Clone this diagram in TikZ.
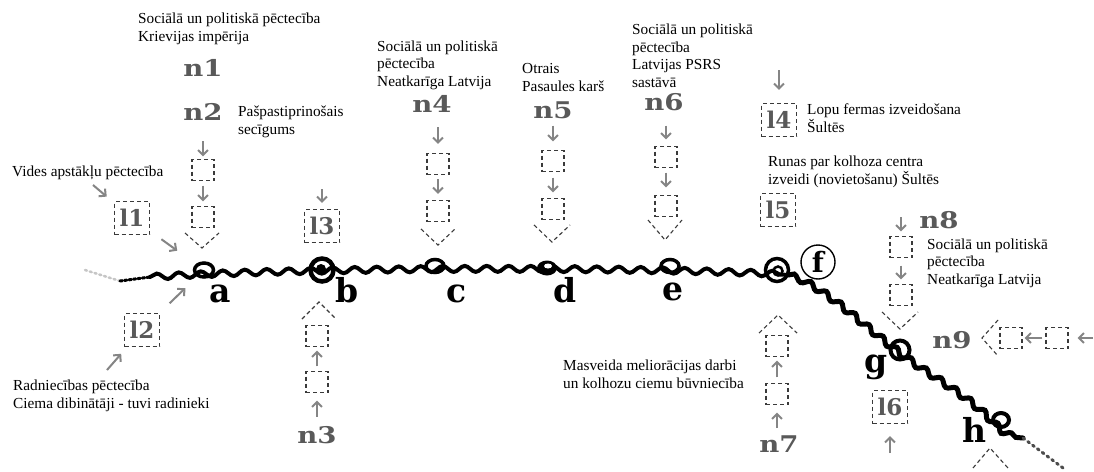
\documentclass[tikz,border=0pt]{standalone}
\usepackage{fontspec}
\setmainfont{Liberation Serif}
\newfontfamily\dvs{DejaVu Serif}
\newfontfamily\dvsw{DejaVu Serif}[FakeStretch=1.2]
\usetikzlibrary{arrows.meta,decorations.pathmorphing,calc}
\definecolor{lblgray}{HTML}{595959}
\definecolor{arrgray}{HTML}{858585}
\definecolor{boxgray}{HTML}{3A3A3A}
\begin{document}
\begin{tikzpicture}[x=1pt,y=-1pt,
  txt/.style={anchor=base west, align=left, inner sep=0, font=\fontsize{15.3}{17.5}\selectfont, text=black},
  big/.style={anchor=base, inner sep=0, font=\dvsw\bfseries\fontsize{23}{23}\selectfont, text=lblgray},
  lbox/.style={draw=boxgray, dash pattern=on 4pt off 3pt, line width=1.1pt, minimum width=35pt, minimum height=33pt, inner sep=0, font=\dvs\bfseries\fontsize{23}{23}\selectfont, text=lblgray},
  sbox/.style={draw=boxgray, dash pattern=on 4pt off 3pt, line width=1.1pt, minimum width=22pt, minimum height=21pt, inner sep=0},
  arr/.style={draw=arrgray, line width=2pt, -{Straight Barb[length=5pt,width=10pt]}},
  chev/.style={draw=boxgray, dash pattern=on 4pt off 3pt, line width=1.1pt},
  thr/.style={anchor=base, inner sep=0, font=\dvs\bfseries\fontsize{33}{33}\selectfont},
]
\fill[white] (0,0) rectangle (1094,471);
\useasboundingbox (0,0) rectangle (1094,471);

% ---------- thread ----------
\coordinate (A) at (204,270);
\coordinate (B) at (322,270);
\coordinate (C) at (435,266);
\coordinate (D) at (547,268);
\coordinate (E) at (670,266);
\coordinate (FL) at (777,270);
\coordinate (G) at (900,350);
\coordinate (H) at (1001,420);
\begin{scope}[line cap=round]
\draw[gray!45, line width=2.5pt, dash pattern=on 2pt off 3pt] (85,270) -- (120,281);
\draw[black, line width=3pt, dash pattern=on 2.5pt off 2pt] (120,281) -- (150,277);
\draw[line width=4pt, decorate, decoration={snake, amplitude=3pt, segment length=22pt}]
  (150,277) .. controls (300,268) and (600,266) .. (790,275);
\draw[line width=5pt, decorate, decoration={snake, amplitude=2.8pt, segment length=18pt}]
  (788,275) .. controls (820,285) and (860,325) .. (900,355)
  .. controls (935,380) and (965,395) .. (990,422)
  .. controls (1000,433) and (1010,437) .. (1023,438);
\draw[black!70, line width=3pt, dash pattern=on 2pt off 4pt] (1023,438) -- (1063,468);
\end{scope}
\draw[line width=3.5pt] (A) ellipse [x radius=9.5, y radius=7];
\draw[line width=4.5pt] (B) circle [radius=11.5];
\fill ($(B)+(-1,-1)$) circle [radius=5];
\draw[line width=3.5pt] (C) ellipse [x radius=9, y radius=6.5];
\fill (D) ellipse [x radius=10, y radius=7.5];
\fill[white] ($(D)+(1,-2)$) ellipse [x radius=4, y radius=2.5];
\draw[line width=3.5pt] (E) ellipse [x radius=9, y radius=6.5];
\draw[line width=3.5pt] (FL) circle [radius=11.5];
\draw[line width=2.5pt] ($(FL)+(1,1)$) circle [radius=4.5];
\draw[line width=4pt] (G) circle [radius=9.5];
\draw[line width=4pt] (H) ellipse [x radius=8, y radius=7];

\node[thr] (la) at (220,302) {a};
\node[thr] (lb) at (347,302) {b};
\node[thr] (lc) at (457,302) {c};
\node[thr] (ld) at (565,302) {d};
\node[thr] (le) at (673,300) {e};
\node[circle, draw, line width=1.4pt, minimum size=34pt, inner sep=0, font=\dvs\bfseries\fontsize{28}{28}\selectfont] (lf) at (818,262) {f};
\node[thr] (lg) at (876,372) {g};
\node[thr] (lh) at (974,442) {h};

% ---------- n1 / n2 column ----------
\node[txt] (tn1) at (138,41) {Sociālā un politiskā pēctecība\\Krievijas impērija};
\node[big] (n1) at (203,76) {n1};
\node[big] (n2) at (203,120) {n2};
\node[txt] (tn2) at (238,134) {Pašpastiprinošais\\secīgums};
\node[sbox] (n2b1) at (203,170) {};
\node[sbox] (n2b2) at (203,217) {};
\coordinate (n2t) at (202,248);
\draw[arr, shorten <=21pt, shorten >=2.5pt] (n2b1 |- n2.south) -- (n2b1.north);
\draw[arr, shorten <=4.5pt, shorten >=4.5pt] (n2b1.south) -- (n2b2.north);
\draw[chev] ($(n2t)+(-17,-15)$) -- (n2t) -- ($(n2t)+(17,-15)$);

% ---------- l1 / l2 ----------
\node[txt] (tvid) at (12,176) {Vides apstākļu pēctecība};
\node[lbox] (l1) at (132,218) {l1};
\coordinate (l1in) at (93,185);
\draw[arr, shorten >=9.5pt] (l1in) -- (l1);
\draw[arr, shorten <=14pt, shorten >=33pt] (l1) -- (A);
\node[lbox] (l2) at (142,330) {l2};
\draw[arr, shorten <=14pt, shorten >=26pt] (l2) -- (A);
\coordinate (l2in) at (107,370);
\draw[arr, shorten >=9pt] (l2in) -- (l2);
\node[txt] (trad) at (13,408) {Radniecības pēctecība\\Ciema dibinātāji - tuvi radinieki};

% ---------- l3 ----------
\node[lbox] (l3) at (322,226) {l3};
\coordinate (l3in) at (322,189);
\draw[arr, shorten >=6pt] (l3in) -- (l3);

% ---------- n3 column ----------
\node[big] (n3) at (317,443) {n3};
\node[sbox] (n3b2) at (317,382) {};
\node[sbox] (n3b1) at (317,336) {};
\coordinate (n3t) at (319,302);
\draw[arr, shorten <=9pt, shorten >=7.5pt] (n3b2 |- n3.north) -- (n3b2.south);
\draw[arr, shorten <=4.5pt, shorten >=3.5pt] (n3b2.north) -- (n3b1.south);
\draw[chev] ($(n3t)+(-17,17)$) -- (n3t) -- ($(n3t)+(17,17)$);

% ---------- n4 column ----------
\node[txt] (tn4) at (377,86) {Sociālā un politiskā\\pēctecība\\Neatkarīga Latvija};
\node[big] (n4) at (432,112) {n4};
\node[sbox] (n4b1) at (438,164) {};
\node[sbox] (n4b2) at (438,211) {};
\coordinate (n4t) at (438,245);
\draw[arr, shorten <=15pt, shorten >=9pt] (n4b1 |- n4.south) -- (n4b1.north);
\draw[arr, shorten <=4pt, shorten >=6pt] (n4b1.south) -- (n4b2.north);
\draw[chev] ($(n4t)+(-17,-16)$) -- (n4t) -- ($(n4t)+(17,-16)$);

% ---------- n5 column ----------
\node[txt] (tn5) at (522,91) {Otrais\\Pasaules karš};
\node[big] (n5) at (553,118) {n5};
\node[sbox] (n5b1) at (553,161) {};
\node[sbox] (n5b2) at (553,209) {};
\coordinate (n5t) at (552,242);
\draw[arr, shorten <=7pt, shorten >=8.5pt] (n5b1 |- n5.south) -- (n5b1.north);
\draw[arr, shorten <=5.5pt, shorten >=5.5pt] (n5b1.south) -- (n5b2.north);
\draw[chev] ($(n5t)+(-18,-17)$) -- (n5t) -- ($(n5t)+(18,-17)$);

% ---------- n6 column ----------
\node[txt] (tn6) at (632,87) {Sociālā un politiskā\\pēctecība\\Latvijas PSRS\\sastāvā};
\node[big] (n6) at (664,110) {n6};
\node[sbox] (n6b1) at (666,157) {};
\node[sbox] (n6b2) at (666,206) {};
\coordinate (n6t) at (665,240);
\draw[arr, shorten <=15pt, shorten >=6.5pt] (n6b1 |- n6.south) -- (n6b1.north);
\draw[arr, shorten <=4.5pt, shorten >=7.5pt] (n6b1.south) -- (n6b2.north);
\draw[chev] ($(n6t)+(-17,-20)$) -- (n6t) -- ($(n6t)+(17,-20)$);

% ---------- l4 / l5 ----------
\coordinate (l4in) at (779,70);
\node[lbox] (l4) at (779,120) {l4};
\draw[arr, shorten >=13pt] (l4in) -- (l4);
\node[txt] (tl4) at (807,132) {Lopu fermas izveidošana\\Šultēs};
\node[txt] (tl5) at (768,184) {Runas par kolhoza centra\\izveidi (novietošanu) Šultēs};
\node[lbox] (l5) at (778,210) {l5};

% ---------- n8 column ----------
\coordinate (n8in) at (901,217);
\node[big] (n8) at (939,228) {n8};
\node[sbox] (n8b1) at (901,247) {};
\node[sbox] (n8b2) at (901,295) {};
\coordinate (n8t) at (900,329);
\draw[arr, shorten >=4.5pt] (n8in) -- (n8b1);
\draw[arr, shorten <=7.5pt, shorten >=4.5pt] (n8b1.south) -- (n8b2.north);
\draw[chev] ($(n8t)+(-18,-17)$) -- (n8t) -- ($(n8t)+(18,-17)$);
\node[txt] (tn8) at (927,284) {Sociālā un politiskā\\pēctecība\\Neatkarīga Latvija};

% ---------- n9 row ----------
\node[big] (n9) at (952,348) {n9};
\coordinate (n9t) at (982,338);
\node[sbox] (n9b1) at (1011,338) {};
\node[sbox] (n9b2) at (1057,338) {};
\coordinate (n9in) at (1093,338);
\draw[arr, shorten >=9pt] (n9in) -- (n9b2);
\draw[arr, shorten <=3pt, shorten >=2pt] (n9b2) -- (n9b1);
\draw[chev] ($(n9t)+(16,-18)$) -- (n9t) -- ($(n9t)+(16,18)$);

% ---------- n7 column ----------
\node[txt] (tn7) at (563,388) {Masveida meliorācijas darbi\\un kolhozu ciemu būvniecība};
\node[big] (n7) at (779,452) {n7};
\node[sbox] (n7b2) at (777,394) {};
\node[sbox] (n7b1) at (777,346) {};
\coordinate (n7t) at (778,315);
\draw[arr, shorten <=7pt, shorten >=7.5pt] (n7b2 |- n7.north) -- (n7b2.south);
\draw[arr, shorten <=5.5pt, shorten >=3.5pt] (n7b2.north) -- (n7b1.south);
\draw[chev] ($(n7t)+(-19,18)$) -- (n7t) -- ($(n7t)+(19,18)$);

% ---------- l6 / h ----------
\node[lbox] (l6) at (890,407) {l6};
\coordinate (l6in) at (890,453);
\draw[arr, shorten >=12pt] (l6in) -- (l6);
\coordinate (ht) at (990,448);
\draw[chev] ($(ht)+(-17,20)$) -- (ht) -- ($(ht)+(18,20)$);
\end{tikzpicture}
\end{document}
